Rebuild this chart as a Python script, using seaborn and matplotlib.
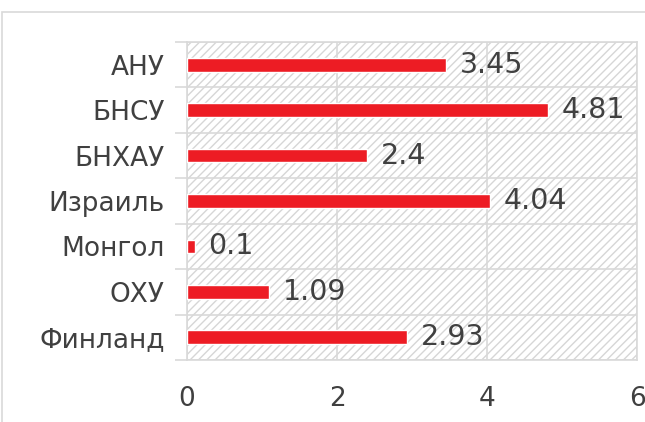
import numpy as np
import pandas as pd
import seaborn as sns
import matplotlib.pyplot as plt
from matplotlib.patches import Rectangle

countries = ["АНУ", "БНСУ", "БНХАУ", "Израиль", "Монгол", "ОХУ", "Финланд"]
values = [3.45, 4.81, 2.4, 4.04, 0.1, 1.09, 2.93]
x_ticks = [0, 2, 4, 6]

BAR_COLOR = "#ed1c24"
GRID_COLOR = "#d9d9d9"
TEXT_COLOR = "#404040"

sns.set_theme(style="white")
plt.rcParams["font.family"] = ["DejaVu Sans"]

df = pd.DataFrame({"country": countries, "value": values})

fig = plt.figure(figsize=(6.45, 4.22), dpi=100)
ax = fig.add_axes([0.290, 0.147, 0.6976, 0.7535])

# hatched plot background
bg = Rectangle(
    (0, 0), 1, 1,
    transform=ax.transAxes,
    facecolor="white",
    edgecolor="#d6d6d6",
    hatch="////",
    linewidth=0,
    zorder=0,
)
ax.add_patch(bg)

sns.barplot(
    data=df,
    y="country",
    x="value",
    orient="h",
    color=BAR_COLOR,
    width=0.3,
    saturation=1,
    ax=ax,
    zorder=3,
)

for container in ax.containers:
    ax.bar_label(
        container,
        labels=[f"{v:g}" for v in values],
        padding=10,
        fontsize=20.5,
        color=TEXT_COLOR,
    )

ax.set_xlim(0, 6)
ax.set_ylim(len(countries) - 0.5, -0.5)
ax.set_xticks(x_ticks)
ax.set_yticks(np.arange(-0.5, len(countries), 1), minor=True)

ax.grid(False)
ax.grid(axis="x", which="major", color=GRID_COLOR, linewidth=1.2, zorder=1)
ax.grid(axis="y", which="minor", color=GRID_COLOR, linewidth=1.2, zorder=1)
ax.set_axisbelow(True)

ax.tick_params(axis="x", which="major", length=0, labelsize=19,
               labelcolor=TEXT_COLOR, pad=19)
ax.tick_params(axis="y", which="major", length=0, labelsize=19,
               labelcolor=TEXT_COLOR, pad=16)
ax.tick_params(axis="y", which="minor", length=9, color=GRID_COLOR,
               width=1.2, left=True)

for side in ["left", "right", "top", "bottom"]:
    ax.spines[side].set_color(GRID_COLOR)
    ax.spines[side].set_linewidth(1.2)

ax.set_xlabel("")
ax.set_ylabel("")

# outer chart border
fig.patches.append(
    Rectangle(
        (0.003, -0.01), 1.0, 0.982,
        transform=fig.transFigure,
        fill=False,
        edgecolor=GRID_COLOR,
        linewidth=1.2,
    )
)

fig.savefig("out.png", dpi=100)
